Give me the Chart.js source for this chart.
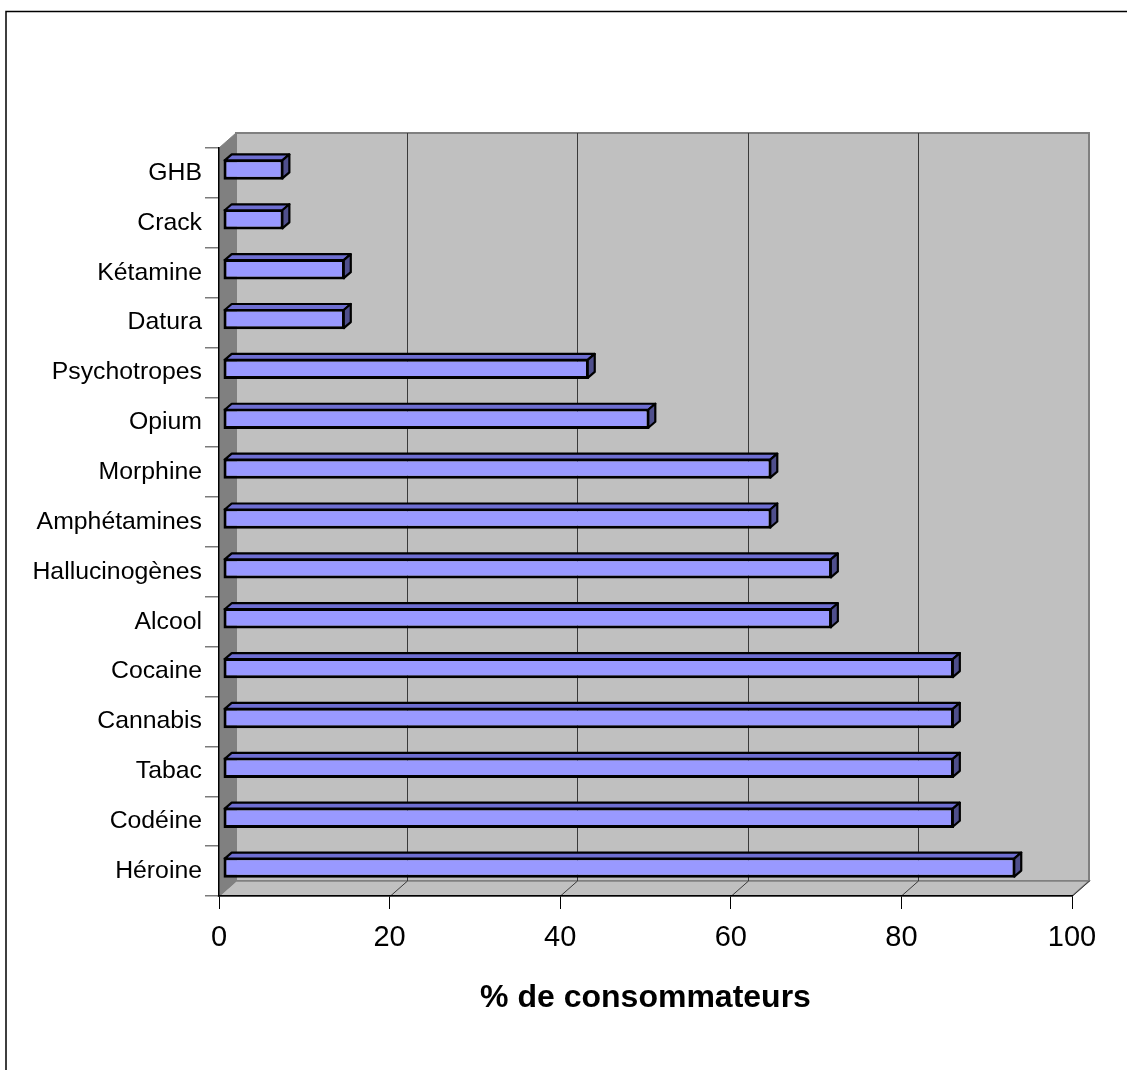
<!DOCTYPE html>
<html>
<head>
<meta charset="utf-8">
<script src="https://cdn.jsdelivr.net/npm/chart.js@4.4.1/dist/chart.umd.min.js"></script>
<style>
  html, body { margin: 0; padding: 0; background: #fff; overflow: hidden; }
  canvas { display: block; }
</style>
</head>
<body>
<canvas id="c" width="1127" height="1070"></canvas>
<script>
// Substances, listed top to bottom as they appear on the category axis
const substances = [
  'GHB', 'Crack', 'Kétamine', 'Datura', 'Psychotropes', 'Opium', 'Morphine',
  'Amphétamines', 'Hallucinogènes', 'Alcool', 'Cocaine', 'Cannabis', 'Tabac',
  'Codéine', 'Héroine'
];
// Share of consumers (%) for each substance
const pctConsumers = [
  7.1, 7.1, 14.3, 14.3, 42.9, 50.0, 64.3,
  64.3, 71.4, 71.4, 85.7, 85.7, 85.7,
  85.7, 92.9
];
const xTicks = [0, 20, 40, 60, 80, 100];
const xTitle = '% de consommateurs';

// Perspective offsets of the 3D box (walls) and of the bars inside it
const WALL_DX = 17, WALL_DY = -15;
const BAR_FRONT_DX = 4, BAR_FRONT_DY = -3.5;
const BAR_DX = 7, BAR_DY = -6;

const FONT = '"Liberation Sans", Arial, Helvetica, sans-serif';

function poly(ctx, pts, fill, stroke, lw) {
  ctx.beginPath();
  ctx.moveTo(pts[0][0], pts[0][1]);
  for (let i = 1; i < pts.length; i++) ctx.lineTo(pts[i][0], pts[i][1]);
  ctx.closePath();
  if (fill) { ctx.fillStyle = fill; ctx.fill(); }
  if (stroke) { ctx.strokeStyle = stroke; ctx.lineWidth = lw || 1; ctx.stroke(); }
}

const box3d = {
  id: 'box3d',
  beforeDraw(chart) {
    const ctx = chart.ctx;
    const a = chart.chartArea;
    const xs = chart.scales.x;
    ctx.save();
    // page background and outer frame
    ctx.fillStyle = '#ffffff';
    ctx.fillRect(0, 0, chart.width, chart.height);
    ctx.strokeStyle = '#000';
    ctx.lineWidth = 1.5;
    ctx.strokeRect(6, 11.5, chart.width + 20, chart.height + 20);

    const L = a.left, R = a.right, T = a.top, B = a.bottom;
    // back wall
    poly(ctx, [[L + WALL_DX, T + WALL_DY], [R + WALL_DX, T + WALL_DY],
               [R + WALL_DX, B + WALL_DY], [L + WALL_DX, B + WALL_DY]], '#c0c0c0', '#808080', 2);
    // floor
    poly(ctx, [[L, B], [L + WALL_DX, B + WALL_DY], [R + WALL_DX, B + WALL_DY], [R, B]], '#c0c0c0', '#808080', 1.5);
    // left side wall
    poly(ctx, [[L, T], [L + WALL_DX, T + WALL_DY], [L + WALL_DX, B + WALL_DY], [L, B]], '#808080', '#808080', 1);

    // gridlines on back wall and floor
    ctx.strokeStyle = '#3a3a3a';
    ctx.lineWidth = 1;
    xTicks.forEach(v => {
      if (v === 0) return;
      const px = Math.round(xs.getPixelForValue(v)) + 0.5;
      ctx.beginPath();
      if (v !== 100) {
        ctx.moveTo(px + WALL_DX, T + WALL_DY);
        ctx.lineTo(px + WALL_DX, B + WALL_DY);
      }
      ctx.moveTo(px + WALL_DX, B + WALL_DY);
      ctx.lineTo(px, B);
      ctx.stroke();
    });
    ctx.restore();
  },
  beforeDatasetsDraw(chart) {
    chart.ctx.save();
    chart.ctx.translate(BAR_FRONT_DX, BAR_FRONT_DY);
  },
  afterDatasetsDraw(chart) {
    const ctx = chart.ctx;
    const meta = chart.getDatasetMeta(0);
    ctx.lineJoin = 'round';
    meta.data.forEach(bar => {
      const p = bar.getProps(['x', 'y', 'base', 'height'], true);
      const top = p.y - p.height / 2 + 1.2;
      const bot = p.y + p.height / 2 - 1.2;
      const x0 = p.base + 1.2, x1 = p.x - 1.2;
      // top face
      poly(ctx, [[x0, top], [x1, top], [x1 + BAR_DX, top + BAR_DY], [x0 + BAR_DX, top + BAR_DY]],
           '#6e6ed2', '#000', 2.2);
      // side face
      poly(ctx, [[x1, top], [x1 + BAR_DX, top + BAR_DY], [x1 + BAR_DX, bot + BAR_DY], [x1, bot]],
           '#4f4f8c', '#000', 2.2);
    });
    ctx.restore();
  }
};

new Chart(document.getElementById('c'), {
  type: 'bar',
  data: {
    labels: substances,
    datasets: [{
      data: pctConsumers,
      backgroundColor: '#9999ff',
      borderColor: '#000000',
      borderWidth: 3,
      borderSkipped: false,
      barPercentage: 0.41,
      categoryPercentage: 1.0,
      clip: false
    }]
  },
  plugins: [box3d],
  options: {
    indexAxis: 'y',
    responsive: false,
    animation: false,
    events: [],
    layout: { padding: { left: 0, top: 148, right: 55, bottom: 53 } },
    plugins: { legend: { display: false }, tooltip: { enabled: false } },
    scales: {
      x: {
        type: 'linear',
        min: 0,
        max: 100,
        afterBuildTicks: s => { s.ticks = xTicks.map(v => ({ value: v })); },
        afterFit: s => { s.height = 121; },
        grid: { drawOnChartArea: false, drawTicks: true, tickLength: 13, color: '#000', lineWidth: 1 },
        border: { display: true, color: '#000', width: 1.5 },
        ticks: { color: '#000', font: { family: FONT, size: 29 }, padding: 12, maxRotation: 0 },
        title: {
          display: true,
          text: xTitle,
          color: '#000',
          font: { family: FONT, size: 32, weight: 'bold' },
          padding: { top: 0, bottom: 0 }
        }
      },
      y: {
        type: 'category',
        afterFit: s => { s.width = 219; },
        grid: { drawOnChartArea: false, drawTicks: true, tickLength: 14, color: '#7a7a7a', lineWidth: 1.5, offset: true },
        border: { display: true, color: '#000', width: 1.5 },
        ticks: { color: '#000', font: { family: FONT, size: 24.8 }, padding: 3 }
      }
    }
  }
});
</script>
</body>
</html>
